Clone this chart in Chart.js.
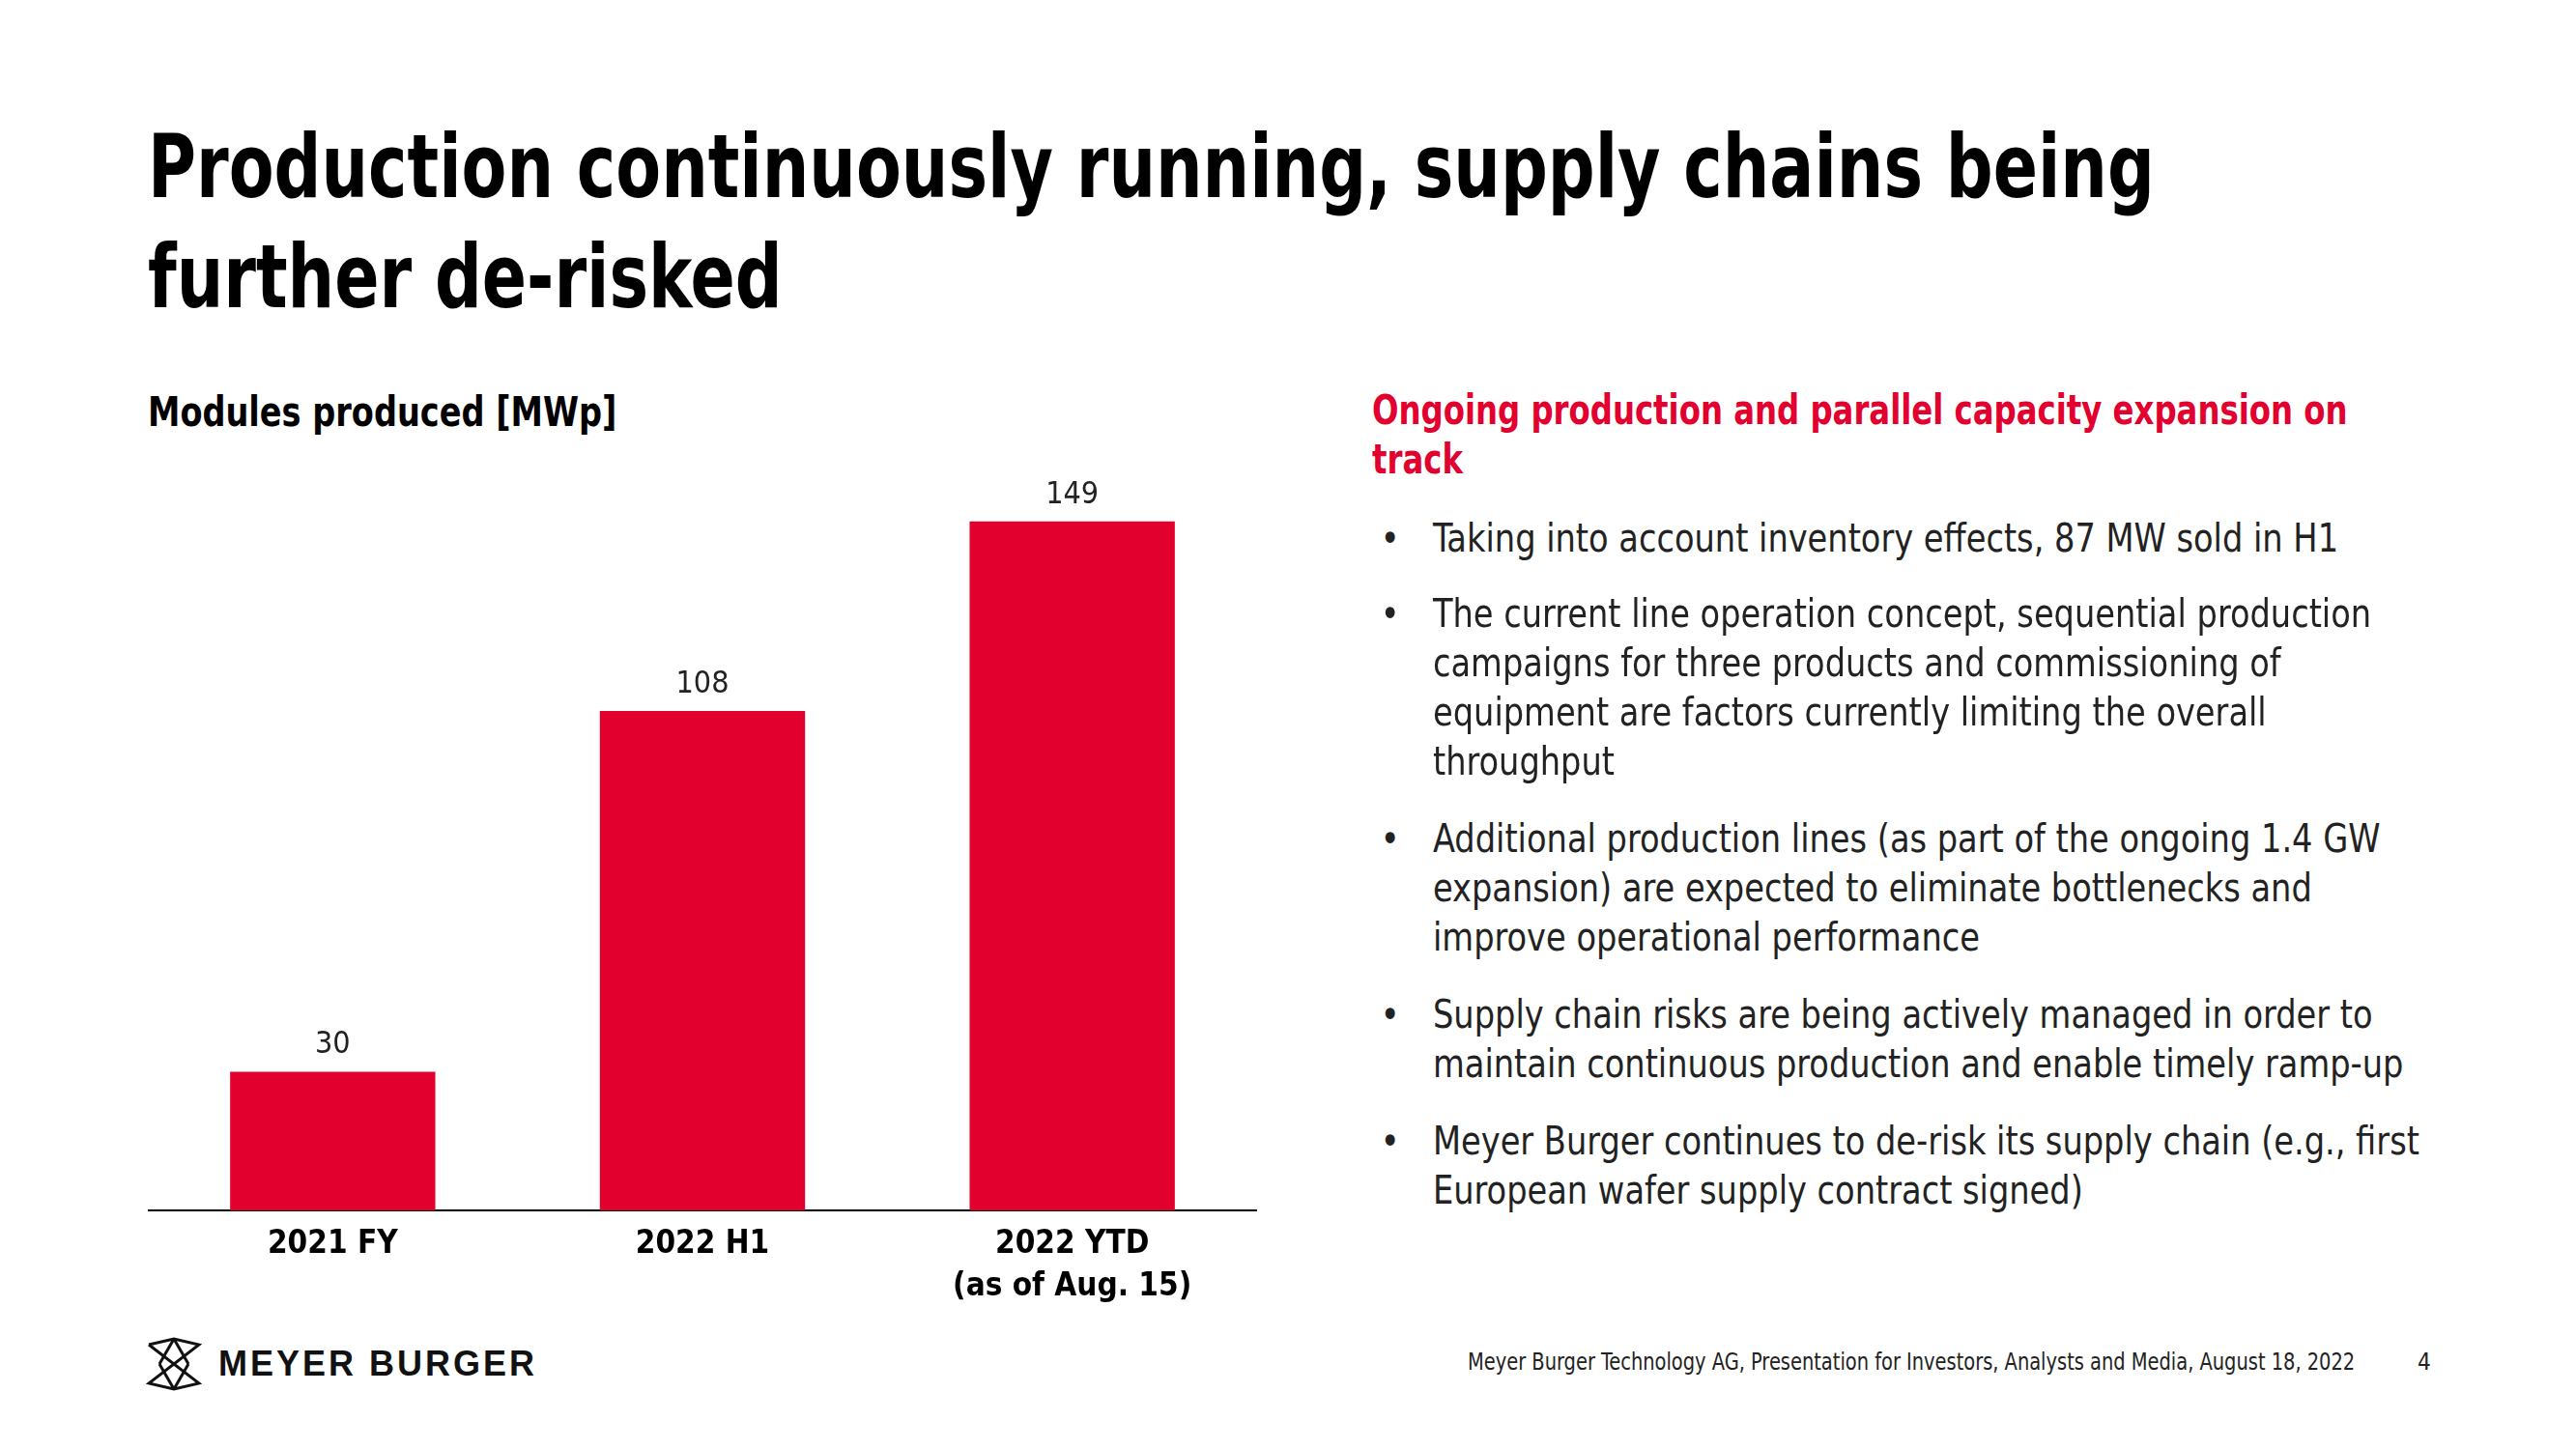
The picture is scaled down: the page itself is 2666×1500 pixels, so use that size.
<!DOCTYPE html>
<html>
<head>
<meta charset="utf-8">
<script src="https://cdn.jsdelivr.net/npm/chart.js@4.4.1/dist/chart.umd.min.js"></script>
<style>
  html, body { margin: 0; padding: 0; background: #fff; }
  body { width: 2666px; height: 1500px; position: relative; overflow: hidden;
    font-family: 'DejaVu Sans Condensed', 'Liberation Sans', sans-serif; color: #000; }
  .abs { position: absolute; white-space: nowrap; transform-origin: left top; }
  #title { left: 153px; top: 116px; font-size: 90px; line-height: 114px; font-weight: bold; transform: scaleX(0.843); }
  #subtitle { left: 153px; top: 402px; font-size: 42px; line-height: 50px; font-weight: bold; transform: scaleX(0.888); }
  #heading { left: 1420px; top: 399px; font-size: 42px; line-height: 51px; font-weight: bold; color: #e2002f; transform: scaleX(0.856); }
  .para { left: 1483px; font-size: 40px; line-height: 51px; color: #222; transform: scaleX(0.935); }
  .para::before { content: '\2022'; position: absolute; left: -58px; }
  #chartBox { position: absolute; left: 153px; top: 487px; width: 1148px; height: 876px; }
  #footer { right: 229px; top: 1395px; font-size: 24px; line-height: 30px; color: #222; transform-origin: right top; transform: scaleX(0.9); }
  #page { left: 2502px; top: 1395px; font-size: 24px; line-height: 30px; color: #222; }
  #logoText { left: 226px; top: 1390px; font-family: 'Liberation Sans', sans-serif; font-weight: bold; font-size: 36px;
    line-height: 44px; letter-spacing: 3px; color: #111; }
  #logoIcon { position: absolute; left: 151px; top: 1384px; }
</style>
</head>
<body>
<div id="title" class="abs">Production continuously running, supply chains being<br>further de-risked</div>
<div id="subtitle" class="abs">Modules produced [MWp]</div>

<div id="chartBox"><canvas id="modulesChart"></canvas></div>

<div id="heading" class="abs">Ongoing production and parallel capacity expansion on<br>track</div>
<div class="abs para" style="top:532px">Taking into account inventory effects, 87 MW sold in H1</div>
<div class="abs para" style="top:610px">The current line operation concept, sequential production<br>campaigns for three products and commissioning of<br>equipment are factors currently limiting the overall<br>throughput</div>
<div class="abs para" style="top:843px">Additional production lines (as part of the ongoing 1.4 GW<br>expansion) are expected to eliminate bottlenecks and<br>improve operational performance</div>
<div class="abs para" style="top:1025px">Supply chain risks are being actively managed in order to<br>maintain continuous production and enable timely ramp-up</div>
<div class="abs para" style="top:1156px">Meyer Burger continues to de-risk its supply chain (e.g., first<br>European wafer supply contract signed)</div>

<svg id="logoIcon" width="58" height="56" viewBox="0 0 58 56" fill="none" stroke="#111" stroke-width="3" stroke-linejoin="miter">
  <polyline points="3,8 29,2 55,8 3,48 29,54 55,48 3,8" />
  <line x1="29" y1="2" x2="44" y2="28" />
  <line x1="29" y1="2" x2="14" y2="28" />
  <line x1="29" y1="54" x2="44" y2="28" />
  <line x1="29" y1="54" x2="14" y2="28" />
</svg>
<div id="logoText" class="abs">MEYER BURGER</div>

<div id="footer" class="abs">Meyer Burger Technology AG, Presentation for Investors, Analysts and Media, August 18, 2022</div>
<div id="page" class="abs">4</div>

<script>
const categories = [['2021 FY'], ['2022 H1'], ['2022 YTD', '(as of Aug. 15)']];
const modulesProduced = [30, 108, 149];
const valueLabels = ['30', '108', '149'];

const FONT = "'DejaVu Sans Condensed', 'Liberation Sans', sans-serif";
const RED = '#e2002f';

const valueLabelPlugin = {
  id: 'valueLabels',
  afterDatasetsDraw(chart) {
    const ctx = chart.ctx;
    const meta = chart.getDatasetMeta(0);
    ctx.save();
    ctx.font = '32px ' + FONT;
    ctx.fillStyle = '#222';
    ctx.textAlign = 'center';
    ctx.textBaseline = 'alphabetic';
    meta.data.forEach((bar, i) => {
      ctx.fillText(valueLabels[i], bar.x, bar.y - 19);
    });
    ctx.restore();
  },
};

new Chart(document.getElementById('modulesChart'), {
  type: 'bar',
  data: {
    labels: categories,
    datasets: [
      {
        label: 'Modules produced [MWp]',
        data: modulesProduced,
        backgroundColor: RED,
        borderWidth: 0,
        barPercentage: 0.555,
        categoryPercentage: 1,
      },
    ],
  },
  options: {
    responsive: true,
    maintainAspectRatio: false,
    animation: false,
    layout: { padding: 0 },
    plugins: { legend: { display: false }, tooltip: { enabled: false } },
    scales: {
      x: {
        grid: { display: false, drawTicks: false },
        border: { display: true, color: '#000', width: 2 },
        ticks: {
          color: '#000',
          padding: 13,
          maxRotation: 0,
          autoSkip: false,
          font: { family: FONT, size: 33, weight: 'bold', lineHeight: '44px' },
        },
        afterFit: (scale) => { scale.height = 110; },
      },
      y: { display: false, min: 0, max: 160 },
    },
  },
  plugins: [valueLabelPlugin],
});
</script>
</body>
</html>
